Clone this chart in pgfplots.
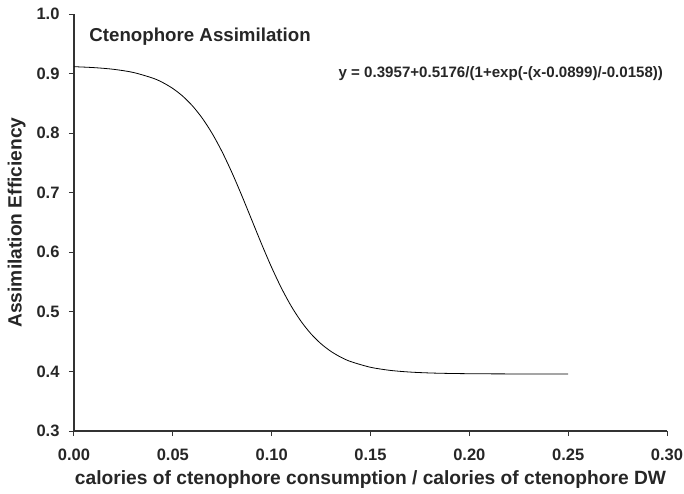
\documentclass[border=0pt]{standalone}
\usepackage{fontspec}
\setmainfont{Liberation Sans}
\usepackage{pgfplots}
\pgfplotsset{compat=1.18}
\begin{document}
\begin{tikzpicture}[x=1pt,y=1pt]
\useasboundingbox (-74,-62) rectangle (610,431);
\begin{axis}[
  scale only axis, width=593pt, height=417pt,
  xmin=0, xmax=0.3, ymin=0.3, ymax=1.0,
  xtick={0,0.05,...,0.3}, ytick={0.3,0.4,...,1.0},
  axis x line*=bottom, axis y line*=left,
  axis line style={line width=1.1pt, black!80, -},
  tick style={line width=1pt, black!80},
  tick align=outside, major tick length=5pt,
  /pgf/number format/assume math mode=true,
  ticklabel style={font=\fontsize{16.5}{19}\selectfont\bfseries, text=black!85},
  xticklabel style={yshift=-9pt, /pgf/number format/.cd, fixed, fixed zerofill, precision=2},
  yticklabel style={xshift=-6pt, /pgf/number format/.cd, fixed, fixed zerofill, precision=1},
  xlabel={calories of ctenophore consumption / calories of ctenophore DW},
  ylabel={Assimilation Efficiency},
  label style={font=\fontsize{19.2}{22}\selectfont\bfseries, text=black!85},
  xlabel style={yshift=-3pt},
  ylabel style={yshift=4pt},
  clip=false,
]
\addplot[black, line width=0.8pt, smooth] coordinates {
(0,0.91156)(0.01,0.91003)(0.02,0.90717)(0.03,0.90188)(0.04,0.89219)(0.045,0.88477)
(0.05,0.87494)(0.055,0.86208)(0.06,0.84551)(0.065,0.82460)(0.07,0.79888)(0.075,0.76822)
(0.08,0.73302)(0.085,0.69431)(0.09,0.65368)(0.095,0.61309)(0.1,0.57449)(0.105,0.53946)
(0.11,0.50900)(0.115,0.48347)(0.12,0.46274)(0.125,0.44634)(0.13,0.43361)(0.135,0.42388)
(0.14,0.41655)(0.15,0.40698)(0.16,0.40175)(0.17,0.39893)(0.18,0.39742)(0.19,0.39662)
(0.2,0.39619)(0.21,0.39596)(0.22,0.39584)(0.23,0.39577)(0.24,0.39574)(0.25,0.39572)
};
\node[anchor=west, font=\fontsize{18.7}{21}\selectfont\bfseries, text=black!85] at (axis cs:0.006,0.962) {Ctenophore Assimilation};
\node[anchor=east, font=\fontsize{15.1}{18}\selectfont\bfseries, text=black!85] at (axis cs:0.2998,0.900) {y = 0.3957+0.5176/(1+exp(-(x-0.0899)/-0.0158))};
\end{axis}
\end{tikzpicture}
\end{document}
